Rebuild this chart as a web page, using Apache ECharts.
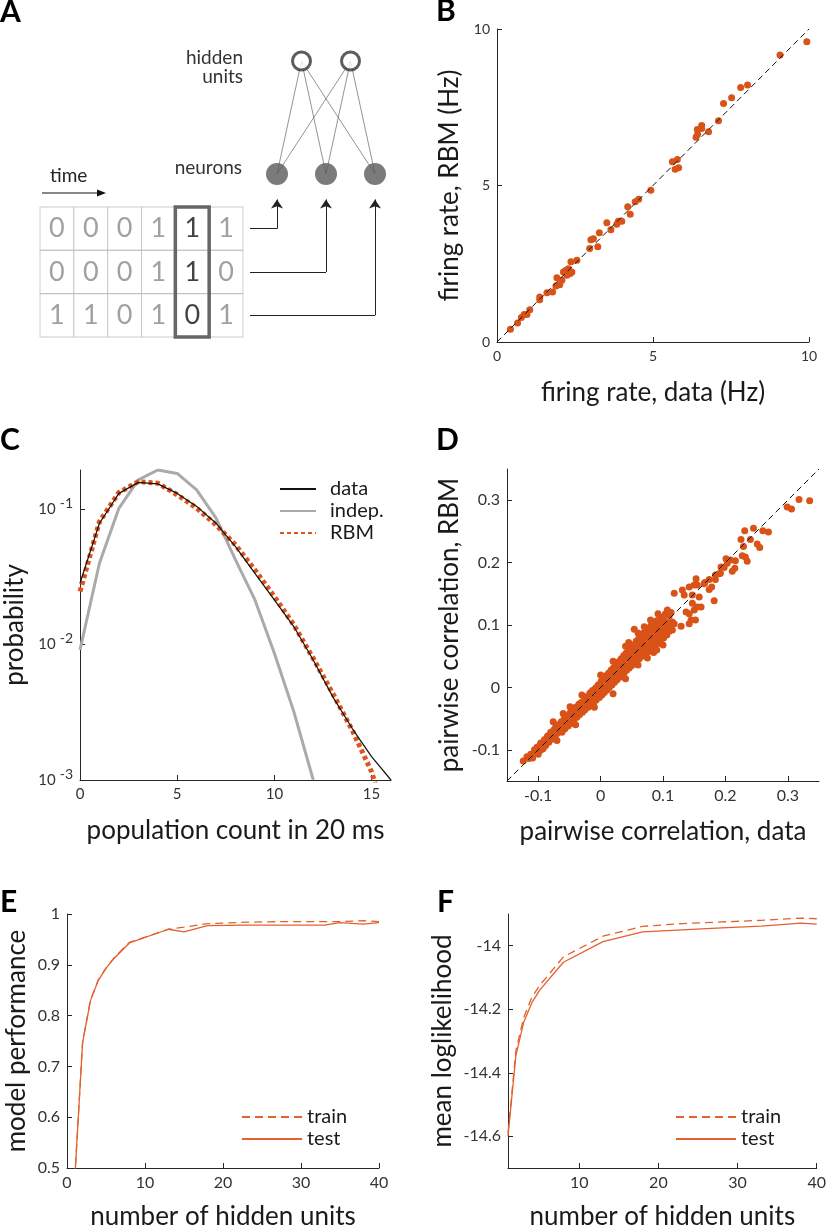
<!DOCTYPE html>
<html>
<head>
<meta charset="utf-8">
<title>RBM fit summary</title>
<script src="https://cdn.jsdelivr.net/npm/echarts@6/dist/echarts.min.js"></script>
<style>
  html, body { margin: 0; padding: 0; background: #fff; }
  #chart { width: 829px; height: 1231px; }
</style>
</head>
<body>
<div id="chart"></div>
<script>
// ---- A: schematic ----
const spikeMatrix = [
  [0, 0, 0, 1, 1, 1],
  [0, 0, 0, 1, 1, 0],
  [1, 1, 0, 1, 0, 1]
]
const currentBin = 4
const neuronX = [0, 1, 2]
const hiddenX = [0.5, 1.5]
const arrowRowY = [-0.484, -0.867, -1.25]

// ---- B: firing rates (data, RBM) ----
const firingRates = [
  [0.43, 0.41], [0.66, 0.61], [0.78, 0.78], [0.87, 0.88], [0.96, 0.88], [1.05, 1.03], [1.37, 1.35],
  [1.37, 1.44], [1.60, 1.57], [1.78, 1.60], [1.89, 1.79], [1.92, 2.05], [2.01, 1.83], [2.08, 1.97],
  [2.13, 2.24], [2.21, 2.29], [2.24, 2.13], [2.29, 2.34], [2.35, 2.19], [2.37, 2.56], [2.40, 2.24],
  [2.56, 2.61], [2.97, 2.99], [3.01, 3.27], [3.09, 3.30], [3.23, 3.04], [3.28, 3.49], [3.52, 3.81],
  [3.65, 3.59], [3.84, 3.76], [3.89, 3.86], [4.00, 3.86], [4.19, 4.32], [4.27, 4.08], [4.43, 4.48],
  [4.54, 4.56], [4.93, 4.85], [5.62, 5.76], [5.71, 5.52], [5.78, 5.83], [5.82, 5.57], [6.38, 6.54],
  [6.43, 6.64], [6.42, 6.79], [6.56, 6.82], [6.56, 6.92], [6.78, 6.72], [7.10, 7.07], [7.26, 7.62],
  [7.52, 7.80], [7.81, 8.13], [8.03, 8.21], [9.07, 9.17], [9.93, 9.59]
]

// ---- C: population count distribution ----
const popCount = [0, 1, 2, 3, 4, 5, 6, 7, 8, 9, 10, 11, 12, 13, 14, 15, 16]
const probData = [0.0284, 0.0788, 0.131, 0.158, 0.154, 0.131, 0.105, 0.0788, 0.053, 0.0336, 0.0214, 0.0136, 0.0077, 0.00413, 0.00241, 0.00149, 0.00100]
const probIndep = [0.00914, 0.0399, 0.1016, 0.165, 0.195, 0.184, 0.139, 0.0859, 0.0423, 0.0214, 0.00863, 0.0032, 0.001]
const probRBM = [0.0247, 0.081, 0.133, 0.160, 0.156, 0.128, 0.102, 0.0766, 0.0545, 0.0356, 0.0226, 0.0140, 0.0079, 0.00437, 0.00234, 0.00115, 0.0004]

// ---- D: pairwise correlations (data, RBM) ----
const corrPairs = [
  [-0.124, -0.118], [-0.118, -0.111], [-0.112, -0.107], [-0.109, -0.113], [-0.106, -0.100], [-0.102, -0.096],
  [-0.100, -0.107], [-0.098, -0.094], [-0.096, -0.089], [-0.094, -0.099], [-0.092, -0.098], [-0.090, -0.084],
  [-0.088, -0.093], [-0.086, -0.081], [-0.085, -0.078], [-0.083, -0.088], [-0.080, -0.072], [-0.078, -0.083],
  [-0.076, -0.055], [-0.076, -0.070], [-0.075, -0.075], [-0.073, -0.079], [-0.072, -0.064], [-0.070, -0.074],
  [-0.068, -0.060], [-0.067, -0.070], [-0.065, -0.066], [-0.064, -0.059], [-0.063, -0.055], [-0.062, -0.072],
  [-0.060, -0.062], [-0.058, -0.050], [-0.057, -0.066], [-0.055, -0.057], [-0.054, -0.046], [-0.053, -0.053],
  [-0.052, -0.062], [-0.050, -0.052], [-0.049, -0.041], [-0.049, -0.031], [-0.047, -0.058], [-0.046, -0.047],
  [-0.045, -0.042], [-0.044, -0.036], [-0.043, -0.053], [-0.041, -0.044], [-0.040, -0.032], [-0.038, -0.048],
  [-0.037, -0.038], [-0.036, -0.033], [-0.035, -0.027], [-0.034, -0.044], [-0.032, -0.034], [-0.031, -0.024],
  [-0.029, -0.040], [-0.028, -0.030], [-0.027, -0.025], [-0.026, -0.018], [-0.025, -0.036], [-0.023, -0.026],
  [-0.022, -0.015], [-0.020, -0.032], [-0.019, -0.022], [-0.018, -0.016], [-0.017, -0.009], [-0.016, -0.028],
  [-0.014, -0.018], [-0.013, -0.005], [-0.011, -0.024], [-0.010, -0.013], [-0.009, -0.007], [-0.008, -0.001],
  [-0.007, -0.020], [-0.005, -0.009], [-0.004, 0.004], [-0.002, -0.016], [0.000, -0.004], [0.000, 0.002],
  [0.001, 0.010], [0.002, -0.012], [0.004, 0.001], [0.005, 0.015], [0.006, -0.008], [0.007, 0.007],
  [0.008, 0.005], [0.009, 0.019], [0.010, -0.004], [0.012, 0.010], [0.013, 0.023], [0.014, 0.000],
  [0.015, 0.016], [0.016, 0.014], [0.017, 0.028], [0.018, 0.004], [0.020, 0.019], [0.021, 0.032],
  [0.022, 0.008], [0.023, 0.021], [0.024, 0.024], [0.025, 0.037], [0.026, 0.012], [0.028, 0.027],
  [0.029, 0.041], [0.030, 0.016], [0.031, 0.029], [0.032, 0.031], [0.033, 0.046], [0.034, 0.020],
  [0.036, 0.036], [0.037, 0.051], [0.038, 0.024], [0.039, 0.038], [0.040, 0.040], [0.041, 0.055],
  [0.042, 0.028], [0.044, 0.044], [0.045, 0.060], [0.046, 0.031], [0.047, 0.046], [0.048, 0.048],
  [0.049, 0.065], [0.050, 0.035], [0.052, 0.052], [0.053, 0.068], [0.054, 0.039], [0.054, 0.093],
  [0.055, 0.054], [0.056, 0.056], [0.057, 0.074], [0.058, 0.042], [0.060, 0.060], [0.061, 0.078],
  [0.062, 0.046], [0.063, 0.062], [0.064, 0.064], [0.065, 0.083], [0.066, 0.050], [0.068, 0.068],
  [0.069, 0.087], [0.070, 0.052], [0.071, 0.070], [0.072, 0.072], [0.073, 0.091], [0.074, 0.056],
  [0.076, 0.075], [0.077, 0.095], [0.078, 0.058], [0.079, 0.080], [0.080, 0.079], [0.081, 0.099],
  [0.082, 0.062], [0.084, 0.083], [0.085, 0.103], [0.086, 0.066], [0.087, 0.089], [0.088, 0.087],
  [0.090, 0.107], [0.091, 0.070], [0.093, 0.091], [0.094, 0.076], [0.095, 0.110], [0.096, 0.074],
  [0.098, 0.095], [0.100, 0.113], [0.101, 0.079], [0.103, 0.099], [0.104, 0.118], [0.105, 0.092],
  [0.106, 0.084], [0.107, 0.124], [0.108, 0.104], [0.109, 0.094], [0.110, 0.090], [0.110, 0.115],
  [0.112, 0.100], [0.113, 0.120], [0.115, 0.092], [0.115, 0.105], [0.118, 0.102], [0.118, 0.151],
  [-0.115, -0.114], [-0.104, -0.103], [-0.097, -0.101], [-0.091, -0.091], [-0.087, -0.087], [-0.082, -0.079],
  [-0.079, -0.078], [-0.074, -0.067], [-0.071, -0.069], [-0.066, -0.062], [-0.061, -0.058], [-0.059, -0.067],
  [-0.056, -0.052], [-0.051, -0.047], [-0.048, -0.053], [-0.044, -0.047], [-0.042, -0.039], [-0.039, -0.041],
  [-0.035, -0.038], [-0.033, -0.029], [-0.030, -0.029], [-0.027, -0.033], [-0.024, -0.021], [-0.021, -0.026],
  [-0.018, -0.012], [-0.015, -0.021], [-0.012, -0.010], [-0.009, -0.016], [-0.006, -0.003], [-0.003, -0.008],
  [-0.001, 0.005], [0.003, -0.005], [0.004, 0.009], [0.007, -0.001], [0.009, 0.012], [0.011, 0.004],
  [0.013, 0.016], [0.015, 0.008], [0.017, 0.020], [0.019, 0.012], [0.021, 0.025], [0.023, 0.014],
  [0.025, 0.030], [0.027, 0.019], [0.029, 0.034], [0.031, 0.022], [0.033, 0.038], [0.035, 0.027],
  [0.037, 0.043], [0.039, 0.030], [0.041, 0.047], [0.043, 0.035], [0.045, 0.052], [0.047, 0.038],
  [0.049, 0.057], [0.051, 0.043], [0.053, 0.060], [0.055, 0.046], [0.057, 0.064], [0.059, 0.050],
  [0.061, 0.069], [0.063, 0.054], [0.065, 0.073], [0.067, 0.058], [0.069, 0.077], [0.071, 0.062],
  [0.073, 0.081], [0.075, 0.065], [0.077, 0.085], [0.079, 0.069], [0.081, 0.089], [0.083, 0.073],
  [0.085, 0.093], [0.087, 0.077], [0.089, 0.097], [0.091, 0.082], [0.093, 0.100], [0.095, 0.086],
  [0.097, 0.104], [0.099, 0.088], [0.101, 0.107], [0.103, 0.090],
  [-0.060, -0.042], [-0.030, -0.012], [0.000, 0.020], [0.020, 0.042], [0.040, 0.066], [0.060, 0.087],
  [0.080, 0.108], [0.060, 0.036], [0.040, 0.014], [0.075, 0.047], [0.090, 0.060], [0.100, 0.068],
  [0.020, -0.010], [-0.010, -0.032], [-0.040, -0.060], [-0.070, -0.085], [0.045, 0.072], [0.070, 0.097],
  [0.092, 0.118], [0.085, 0.056],
  [0.129, 0.098], [0.131, 0.156], [0.134, 0.148], [0.137, 0.121], [0.142, 0.161], [0.142, 0.118],
  [0.142, 0.102], [0.145, 0.108], [0.147, 0.148], [0.147, 0.135], [0.150, 0.124], [0.150, 0.164],
  [0.152, 0.108], [0.153, 0.174], [0.155, 0.164], [0.155, 0.129], [0.158, 0.145], [0.161, 0.129],
  [0.166, 0.166], [0.167, 0.168], [0.174, 0.173], [0.174, 0.157], [0.178, 0.161], [0.182, 0.139],
  [0.184, 0.173], [0.184, 0.180], [0.190, 0.182], [0.192, 0.183], [0.193, 0.193], [0.198, 0.192],
  [0.201, 0.206], [0.203, 0.199], [0.208, 0.204], [0.211, 0.186], [0.215, 0.191], [0.216, 0.203],
  [0.225, 0.237], [0.227, 0.211], [0.229, 0.226], [0.231, 0.251], [0.232, 0.209], [0.235, 0.202],
  [0.240, 0.237], [0.245, 0.255], [0.251, 0.230], [0.255, 0.224], [0.260, 0.251], [0.269, 0.249],
  [0.299, 0.289], [0.306, 0.286], [0.318, 0.301], [0.335, 0.299]
]
const corrTicks = [-0.1, 0, 0.1, 0.2, 0.3]

// ---- E: model performance ----
const unitsE = [1, 2, 3, 4, 5, 6, 8, 13, 15, 18, 23, 28, 33, 35, 38, 40]
const perfTrain = [0.48, 0.748, 0.830, 0.870, 0.894, 0.913, 0.944, 0.970, 0.974, 0.981, 0.984, 0.985, 0.985, 0.985, 0.987, 0.985]
const perfTest = [0.48, 0.747, 0.829, 0.869, 0.893, 0.912, 0.943, 0.970, 0.965, 0.977, 0.978, 0.978, 0.978, 0.983, 0.980, 0.983]

// ---- F: mean loglikelihood ----
const unitsF = [1, 2, 3, 4, 5, 8, 13, 18, 23, 28, 33, 38, 40]
const llTrain = [-14.59, -14.33, -14.225, -14.163, -14.125, -14.035, -13.970, -13.939, -13.930, -13.925, -13.920, -13.913, -13.915]
const llTest = [-14.60, -14.345, -14.24, -14.18, -14.14, -14.052, -13.987, -13.956, -13.950, -13.944, -13.938, -13.929, -13.932]
const unitTicksF = [10, 20, 30, 40]
const llTicks = [-14.6, -14.4, -14.2, -14]

const FONT = 'Lato, "DejaVu Sans", sans-serif'
const AXIS = '#262626'
const ORANGE = '#D95319'
const LINE_ORANGE = '#E2612E'

const pairs = (xs, ys) => ys.map((y, i) => [xs[i], y])

function mkAxis(dim, grid, o) {
  return {
    type: o.type || 'value',
    gridIndex: grid,
    position: dim === 'x' ? 'bottom' : 'left',
    min: o.min,
    max: o.max,
    interval: o.interval,
    logBase: o.type === 'log' ? 10 : undefined,
    name: o.name,
    nameLocation: 'middle',
    nameGap: o.gap,
    nameTextStyle: { fontFamily: FONT, fontSize: 26, color: '#1a1a1a' },
    axisLine: { show: true, onZero: false, lineStyle: { color: AXIS, width: 1 } },
    axisTick: { show: true, inside: true, length: 5, lineStyle: { color: AXIS }, customValues: o.ticks },
    axisLabel: {
      fontFamily: FONT, fontSize: o.fs || 16, color: '#333', margin: o.margin || 7,
      customValues: o.ticks, showMaxLabel: o.showMax, formatter: o.formatter, rich: o.rich
    },
    splitLine: { show: false },
    minorTick: { show: false }
  }
}

const hiddenAxis = (grid, min, max) => ({
  type: 'value', gridIndex: grid, min, max, show: false, splitLine: { show: false }
})

const legendBase = {
  orient: 'vertical', padding: 0, itemHeight: 14, itemGap: 0, selectedMode: false,
  itemStyle: { opacity: 0 },
  textStyle: { fontFamily: FONT, fontSize: 20, color: '#1a1a1a', lineHeight: 22 }
}

const chart = echarts.init(document.getElementById('chart'), null, { renderer: 'canvas' })

const matrixCells = []
spikeMatrix.forEach((row, r) => row.forEach((v, c) => {
  matrixCells.push({ value: [c, r, v], label: { color: c === currentBin ? '#111' : '#8a8a8a' } })
}))

const edges = []
hiddenX.forEach(h => neuronX.forEach(n => edges.push({ coords: [[h, 1], [n, 0]] })))

const arrowStems = neuronX.map((n, i) => ({ coords: [[-0.55, arrowRowY[i]], [n, arrowRowY[i]]] }))
const arrowHeads = neuronX.map((n, i) => ({ coords: [[n, arrowRowY[i]], [n, -0.225]] }))

const option = {
  animation: false,
  backgroundColor: '#fff',
  textStyle: { fontFamily: FONT },
  grid: [
    { left: 40, top: 207, width: 203, height: 130 },
    { left: 247.6, top: 32.75, width: 147, height: 310.75 },
    { left: 497, top: 29, width: 312, height: 313 },
    { left: 80, top: 470, width: 311, height: 310 },
    { left: 507, top: 469, width: 312, height: 312 },
    { left: 67, top: 914, width: 312, height: 259 },
    { left: 508, top: 914, width: 311, height: 259 }
  ],
  xAxis: [
    { type: 'category', gridIndex: 0, data: spikeMatrix[0].map((_, i) => String(i)), show: false },
    hiddenAxis(1, -0.6, 2.4),
    mkAxis('x', 2, { min: 0, max: 10, interval: 5, name: 'firing rate, data (Hz)', gap: 38, fs: 14 }),
    mkAxis('x', 3, { min: 0, max: 16, ticks: [0, 5, 10, 15], name: 'population count in 20 ms', gap: 38, fs: 15 }),
    mkAxis('x', 4, { min: -0.15, max: 0.35, ticks: corrTicks, name: 'pairwise correlation, data', gap: 38 }),
    mkAxis('x', 5, { min: 0, max: 40, interval: 10, name: 'number of hidden units', gap: 36 }),
    mkAxis('x', 6, { min: 1, max: 40, ticks: unitTicksF, name: 'number of hidden units', gap: 36 })
  ],
  yAxis: [
    { type: 'category', gridIndex: 0, data: spikeMatrix.map((_, i) => String(i)), inverse: true, show: false },
    hiddenAxis(1, -1.5, 1.25),
    mkAxis('y', 2, { min: 0, max: 10, interval: 5, name: 'firing rate, RBM (Hz)', gap: 34, fs: 14 }),
    mkAxis('y', 3, {
      type: 'log', min: 0.001, max: 0.195, showMax: false, name: 'probability', gap: 52,
      formatter: v => '{b|10}{e|' + Math.round(Math.log10(v)) + '}',
      rich: {
        b: { fontFamily: FONT, fontSize: 15, color: '#333' },
        e: { fontFamily: FONT, fontSize: 14, color: '#333', padding: [0, 0, 12, 4] }
      }
    }),
    mkAxis('y', 4, { min: -0.15, max: 0.35, ticks: corrTicks, name: 'pairwise correlation, RBM', gap: 44 }),
    mkAxis('y', 5, { min: 0.5, max: 1, interval: 0.1, name: 'model performance', gap: 37 }),
    mkAxis('y', 6, { min: -14.7, max: -13.9, ticks: llTicks, name: 'mean loglikelihood', gap: 52 })
  ],
  legend: [
    Object.assign({}, legendBase, {
      left: 279, top: 478, itemWidth: 36, data: ['data', 'indep.', 'RBM'],
      textStyle: Object.assign({}, legendBase.textStyle, { padding: [0, 0, 0, 9] })
    }),
    Object.assign({}, legendBase, { left: 241, top: 1106, itemWidth: 60, data: ['train', 'test'] }),
    Object.assign({}, legendBase, { left: 675, top: 1106, itemWidth: 60, data: ['train', 'test'] })
  ],
  graphic: [
    { type: 'text', x: 0, y: 12, style: { text: 'A', font: 'bold 30px Lato', fill: '#000', verticalAlign: 'middle' } },
    { type: 'text', x: 436, y: 11, style: { text: 'B', font: 'bold 30px Lato', fill: '#000', verticalAlign: 'middle' } },
    { type: 'text', x: 0, y: 440, style: { text: 'C', font: 'bold 30px Lato', fill: '#000', verticalAlign: 'middle' } },
    { type: 'text', x: 436, y: 440, style: { text: 'D', font: 'bold 30px Lato', fill: '#000', verticalAlign: 'middle' } },
    { type: 'text', x: 0, y: 902, style: { text: 'E', font: 'bold 30px Lato', fill: '#000', verticalAlign: 'middle' } },
    { type: 'text', x: 437, y: 902, style: { text: 'F', font: 'bold 30px Lato', fill: '#000', verticalAlign: 'middle' } },
    { type: 'text', x: 243, y: 58, style: { text: 'hidden', font: '19px Lato', fill: '#333', align: 'right', verticalAlign: 'middle' } },
    { type: 'text', x: 243, y: 77, style: { text: 'units', font: '19px Lato', fill: '#333', align: 'right', verticalAlign: 'middle' } },
    { type: 'text', x: 242, y: 168, style: { text: 'neurons', font: '19px Lato', fill: '#333', align: 'right', verticalAlign: 'middle' } },
    { type: 'text', x: 50, y: 176, style: { text: 'time', font: '19px Lato', fill: '#222', verticalAlign: 'middle' } },
    { type: 'line', shape: { x1: 42, y1: 193, x2: 99, y2: 193 }, style: { stroke: '#111', lineWidth: 1 } },
    { type: 'polygon', shape: { points: [[106, 193], [97, 189.5], [97, 196.5]] }, style: { fill: '#111' } }
  ],
  series: [
    // A: spike matrix
    {
      type: 'scatter', xAxisIndex: 0, yAxisIndex: 0, symbol: 'rect', symbolSize: [33.8, 43.3],
      itemStyle: { color: '#fff', borderColor: '#bdbdbd', borderWidth: 1 },
      label: { show: true, position: 'inside', formatter: p => p.value[2], fontFamily: FONT, fontSize: 27 },
      data: matrixCells, silent: true
    },
    {
      type: 'custom', xAxisIndex: 0, yAxisIndex: 0, silent: true, z: 5,
      data: [[currentBin, 1]],
      renderItem: (params, api) => {
        const c = api.coord([api.value(0), api.value(1)])
        const s = api.size([1, 1])
        return {
          type: 'rect',
          shape: { x: c[0] - s[0] / 2, y: c[1] - s[1] * 1.5, width: s[0], height: s[1] * 3 },
          style: { fill: 'none', stroke: '#666', lineWidth: 3.5 }
        }
      }
    },
    // A: network
    {
      type: 'lines', coordinateSystem: 'cartesian2d', xAxisIndex: 1, yAxisIndex: 1, clip: false,
      lineStyle: { color: '#777', width: 0.8, opacity: 1 }, data: edges, silent: true
    },
    {
      type: 'lines', coordinateSystem: 'cartesian2d', xAxisIndex: 1, yAxisIndex: 1, clip: false,
      lineStyle: { color: '#222', width: 1, opacity: 1 }, data: arrowStems, silent: true
    },
    {
      type: 'lines', coordinateSystem: 'cartesian2d', xAxisIndex: 1, yAxisIndex: 1, clip: false,
      symbol: ['none', 'arrow'], symbolSize: 9,
      lineStyle: { color: '#222', width: 1, opacity: 1 }, data: arrowHeads, silent: true
    },
    {
      type: 'scatter', xAxisIndex: 1, yAxisIndex: 1, symbolSize: 22,
      itemStyle: { color: '#5a5a5a' }, data: neuronX.map(x => [x, 0]), silent: true
    },
    {
      type: 'scatter', xAxisIndex: 1, yAxisIndex: 1, symbolSize: 18,
      itemStyle: { color: '#fff', borderColor: '#333', borderWidth: 3 }, data: hiddenX.map(x => [x, 1]), silent: true
    },
    // B
    {
      name: 'rates', type: 'scatter', xAxisIndex: 2, yAxisIndex: 2, symbolSize: 7,
      itemStyle: { color: ORANGE, opacity: 1 }, data: firingRates
    },
    {
      name: 'diagB', type: 'line', xAxisIndex: 2, yAxisIndex: 2, symbol: 'none',
      lineStyle: { color: '#111', width: 1, type: [6, 4] }, data: [[0, 0], [10, 10]], z: 4
    },
    // C
    {
      name: 'indep.', type: 'line', xAxisIndex: 3, yAxisIndex: 3, symbol: 'none', showSymbol: false,
      lineStyle: { color: '#aaaaaa', width: 3 }, itemStyle: { color: '#aaaaaa' },
      data: pairs(popCount, probIndep)
    },
    {
      name: 'RBM', type: 'line', xAxisIndex: 3, yAxisIndex: 3, symbol: 'none', showSymbol: false,
      lineStyle: { color: '#E0531A', width: 5, type: [4, 3] }, itemStyle: { color: '#E0531A' },
      data: pairs(popCount, probRBM)
    },
    {
      name: 'data', type: 'line', xAxisIndex: 3, yAxisIndex: 3, symbol: 'none', showSymbol: false,
      lineStyle: { color: '#111', width: 1.2 }, itemStyle: { color: '#111' },
      data: pairs(popCount, probData)
    },
    // D
    {
      name: 'corr', type: 'scatter', xAxisIndex: 4, yAxisIndex: 4, symbolSize: 7,
      itemStyle: { color: ORANGE, opacity: 1 }, data: corrPairs
    },
    {
      name: 'diagD', type: 'line', xAxisIndex: 4, yAxisIndex: 4, symbol: 'none',
      lineStyle: { color: '#111', width: 1, type: [6, 4] }, data: [[-0.15, -0.15], [0.35, 0.35]], z: 4
    },
    // E
    {
      name: 'train', type: 'line', xAxisIndex: 5, yAxisIndex: 5, symbol: 'none', showSymbol: false,
      lineStyle: { color: LINE_ORANGE, width: 1.3, type: [8, 5] }, itemStyle: { color: LINE_ORANGE },
      data: pairs(unitsE, perfTrain)
    },
    {
      name: 'test', type: 'line', xAxisIndex: 5, yAxisIndex: 5, symbol: 'none', showSymbol: false,
      lineStyle: { color: LINE_ORANGE, width: 1.3 }, itemStyle: { color: LINE_ORANGE },
      data: pairs(unitsE, perfTest)
    },
    // F
    {
      name: 'train', type: 'line', xAxisIndex: 6, yAxisIndex: 6, symbol: 'none', showSymbol: false,
      lineStyle: { color: LINE_ORANGE, width: 1.3, type: [8, 5] }, itemStyle: { color: LINE_ORANGE },
      data: pairs(unitsF, llTrain)
    },
    {
      name: 'test', type: 'line', xAxisIndex: 6, yAxisIndex: 6, symbol: 'none', showSymbol: false,
      lineStyle: { color: LINE_ORANGE, width: 1.3 }, itemStyle: { color: LINE_ORANGE },
      data: pairs(unitsF, llTest)
    }
  ]
}

chart.setOption(option)
</script>
</body>
</html>
